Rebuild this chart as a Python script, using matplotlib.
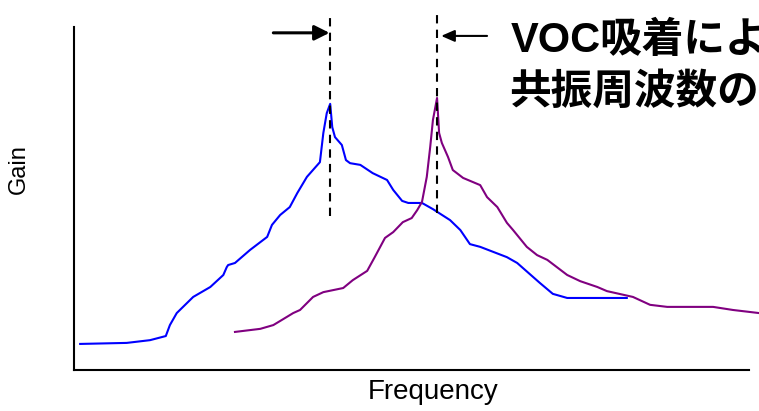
import matplotlib.pyplot as plt

# Gain vs frequency before (blue) and after (purple) VOC adsorption, arbitrary units
freq_before = [0.9, 7.7, 11.1, 13.4, 14.0, 15.0, 17.4, 19.9, 21.8, 22.3, 22.5, 23.5,
               25.7, 28.2, 28.9, 30.1, 31.5, 32.6, 34.0, 35.9, 36.4, 36.9, 37.4,
               37.7, 38.1, 39.1, 39.7, 40.3, 41.8, 43.6, 45.7, 46.6, 47.9, 48.8,
               50.8, 52.4, 54.9, 56.4, 57.8, 59.3, 63.2, 64.7, 68.0, 69.9, 72.0, 80.7]
gain_before = [7.6, 7.9, 8.7, 9.9, 13.1, 16.6, 21.3, 24.2, 27.7, 30.0, 30.6, 31.2,
               35.0, 38.8, 42.3, 45.2, 47.5, 51.6, 56.3, 60.6, 69.1, 74.9, 77.6,
               70.8, 67.9, 65.6, 61.2, 60.3, 59.8, 57.4, 55.4, 52.5, 49.3, 48.7,
               48.7, 46.9, 43.7, 40.8, 36.7, 35.9, 32.9, 31.2, 25.4, 22.2, 21.0, 21.0]

freq_after = [23.5, 27.2, 29.1, 30.1, 32.0, 33.0, 34.9, 36.4, 39.3, 40.7, 42.8, 43.9,
              45.4, 46.6, 48.0, 49.3, 50.1, 50.8, 51.5, 52.0, 52.4, 53.0, 53.3, 53.7,
              54.6, 55.3, 56.8, 59.3, 60.3, 61.8, 63.2, 64.1, 66.1, 67.6, 69.1, 72.0,
              73.9, 76.4, 77.8, 81.6, 84.1, 86.6, 93.3, 96.2, 100.0]
gain_after = [11.1, 12.0, 13.1, 14.3, 16.6, 17.5, 21.3, 22.7, 23.9, 26.2, 28.9, 32.9,
              38.5, 40.2, 43.1, 44.3, 46.6, 49.0, 56.3, 65.0, 72.9, 79.3, 69.1, 66.2,
              62.1, 58.3, 56.0, 53.9, 50.4, 47.5, 42.9, 40.8, 35.9, 33.5, 32.1, 27.7,
              25.9, 24.2, 23.0, 21.3, 19.0, 18.4, 18.4, 17.5, 16.6]

peak_before = 37.3
peak_after = 53.0

fig = plt.figure(figsize=(7.59, 4.11), dpi=100)
W, H = 759, 411
ax = fig.add_axes([74 / W, (H - 370) / H, (759 - 74) / W, (370 - 27) / H])

ax.plot(freq_before, gain_before, color='#0000ff', lw=1.5, clip_on=False,
        solid_joinstyle='round')
ax.plot(freq_after, gain_after, color='#800080', lw=1.5, clip_on=False,
        solid_joinstyle='round')

# resonance markers
for p, top, bottom in [(peak_before, 104.1, 44.9), (peak_after, 105.0, 45.8)]:
    ax.plot([p, p], [bottom, top], color='black', lw=1.5, ls=(0, (4, 3)), clip_on=False)

ax.annotate('', xy=(peak_before, 98.3), xytext=(29.1, 98.3),
            arrowprops=dict(arrowstyle='-|>,head_length=0.9,head_width=0.45',
                            color='black', lw=2.2, shrinkA=0, shrinkB=0),
            annotation_clip=False)
ax.annotate('', xy=(peak_after + 0.6, 97.4), xytext=(60.3, 97.4),
            arrowprops=dict(arrowstyle='-|>,head_length=0.8,head_width=0.35',
                            color='black', lw=1.5, shrinkA=0, shrinkB=0),
            annotation_clip=False)

ax.set_xlim(0, 100)
ax.set_ylim(0, 100)
ax.set_xticks([])
ax.set_yticks([])
ax.spines['top'].set_visible(False)
ax.spines['right'].set_visible(False)
ax.spines['bottom'].set_bounds(0, 98.5)
for s in ['left', 'bottom']:
    ax.spines[s].set_linewidth(1.5)

fig.text(433 / W, 1 - 399 / H, 'Frequency', ha='center', va='baseline',
         family='Liberation Sans', fontsize=20)
fig.text(19 / W, 1 - 169 / H, 'Gain', ha='center', va='center', rotation=90,
         family='Liberation Sans', fontsize=17)

title_font = ['Liberation Sans', 'Noto Sans CJK JP']
fig.text(511 / W, 1 - 52 / H, 'VOC吸着によ', ha='left', va='baseline',
         family=title_font, fontsize=30, fontweight='bold')
fig.text(509 / W, 1 - 104 / H, '共振周波数の', ha='left', va='baseline',
         family=title_font, fontsize=30, fontweight='bold')

fig.savefig('out.png', dpi=100)
